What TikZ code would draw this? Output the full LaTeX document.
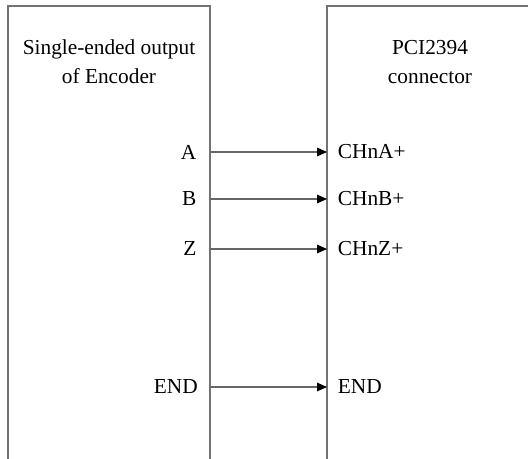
\documentclass[tikz,border=0pt]{standalone}
\usepackage{fontspec}
\setmainfont{Liberation Serif}
\usetikzlibrary{arrows.meta,positioning}

\begin{document}
\begin{tikzpicture}[x=0.75pt,y=-0.75pt,node distance=8pt,
    box/.style={draw=black!55,line width=0.8pt},
    sig/.style={font=\fontsize{16}{21.75}\selectfont,inner sep=0pt},
    title/.style={font=\fontsize{16}{21.75}\selectfont,align=center,inner sep=0pt},
    wire/.style={draw=black!60,line width=0.8pt,-{Triangle[length=7.5pt,width=6.5pt,color=black]}}]
  \useasboundingbox (0,0) rectangle (528,459);
  % the two blocks, open at the bottom
  \draw[box] (8,460) -- (8,6) -- (210,6) -- (210,460);
  \draw[box] (327,460) -- (327,6) -- (529,6);
  \node[title] (enc) at (109,62) {Single-ended output\\of Encoder};
  \node[title] (pci) at (430,62) {PCI2394\\connector};
  % pins on the block edges
  \coordinate (la) at (210,152);
  \coordinate (lb) at (210,199);
  \coordinate (lz) at (210,249);
  \coordinate (le) at (210,387);
  \coordinate (ra) at (327,152);
  \coordinate (rb) at (327,199);
  \coordinate (rz) at (327,249);
  \coordinate (re) at (327,387);
  \node[sig] (a) [left=10pt of la] {A};
  \node[sig] (b) [left=10pt of lb] {B};
  \node[sig] (z) [left=10pt of lz] {Z};
  \node[sig] (e) [left=9pt of le] {END};
  \node[sig] (cha) [right=8pt of ra] {CHnA+};
  \node[sig] (chb) [right=8pt of rb] {CHnB+};
  \node[sig] (chz) [right=8pt of rz] {CHnZ+};
  \node[sig] (end) [right=8pt of re] {END};
  \path
  (la) edge [wire] (ra)
  (lb) edge [wire] (rb)
  (lz) edge [wire] (rz)
  (le) edge [wire] (re)
  ;
\end{tikzpicture}
\end{document}
